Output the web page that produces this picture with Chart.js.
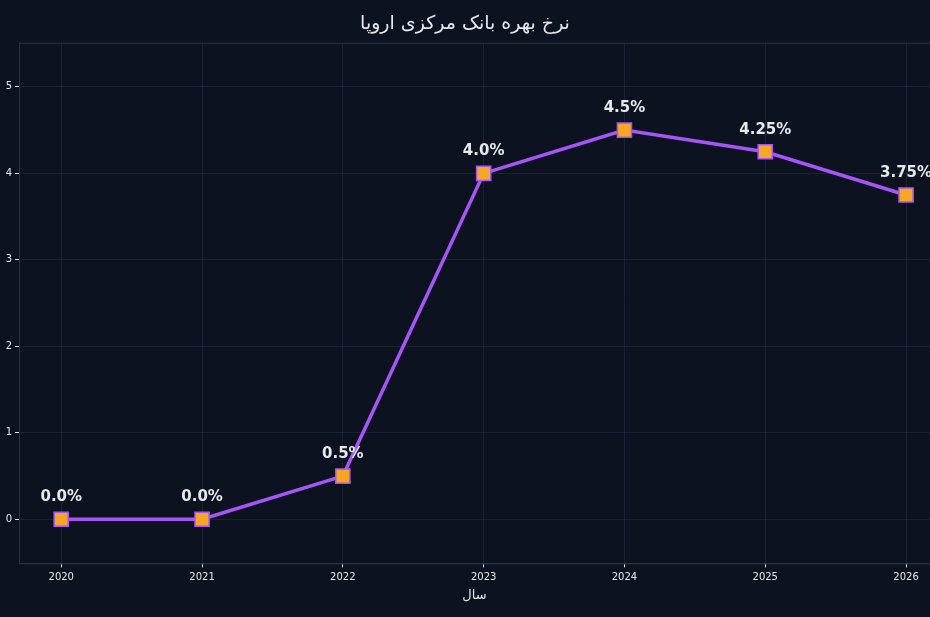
<!DOCTYPE html>
<html>
<head>
<meta charset="utf-8">
<script src="https://cdn.jsdelivr.net/npm/chart.js@4/dist/chart.umd.min.js"></script>
<style>
  html, body { margin: 0; padding: 0; background: #0c1220; }
  #wrap { width: 930px; height: 617px; position: relative; }
</style>
</head>
<body>
<div id="wrap"><canvas id="rate-chart"></canvas></div>
<script>
const years = [2020, 2021, 2022, 2023, 2024, 2025, 2026];
const rates = [0.0, 0.0, 0.5, 4.0, 4.5, 4.25, 3.75];
const rateLabels = ['0.0%', '0.0%', '0.5%', '4.0%', '4.5%', '4.25%', '3.75%'];
const yTicks = [0, 1, 2, 3, 4, 5];

const colors = {
  bg: '#0c1220',
  text: '#e6e8ee',
  grid: 'rgba(60, 70, 95, 0.3)',
  border: '#2a3142',
  line: '#a855f7',
  marker: '#f5a623'
};

const pointLabels = {
  id: 'pointLabels',
  afterDatasetsDraw(chart) {
    const { ctx } = chart;
    const meta = chart.getDatasetMeta(0);
    ctx.save();
    ctx.fillStyle = colors.text;
    ctx.font = 'bold 15px "DejaVu Sans", sans-serif';
    ctx.textAlign = 'center';
    ctx.textBaseline = 'middle';
    meta.data.forEach((pt, i) => {
      ctx.fillText(rateLabels[i], pt.x, pt.y - 22);
    });
    ctx.restore();
  }
};

const frame = {
  id: 'frame',
  beforeDraw(chart) {
    const { ctx } = chart;
    ctx.save();
    ctx.fillStyle = colors.bg;
    ctx.fillRect(0, 0, chart.width, chart.height);
    ctx.restore();
  },
  afterDraw(chart) {
    const { ctx, chartArea: a } = chart;
    ctx.save();
    ctx.strokeStyle = colors.border;
    ctx.lineWidth = 1;
    ctx.strokeRect(a.left + 0.5, a.top + 0.5, a.right - a.left, a.bottom - a.top);
    ctx.restore();
  }
};

new Chart(document.getElementById('rate-chart'), {
  type: 'line',
  data: {
    datasets: [{
      label: 'rate',
      data: years.map((y, i) => ({ x: y, y: rates[i] })),
      borderColor: colors.line,
      borderWidth: 3.5,
      tension: 0,
      clip: false,
      pointStyle: 'rect',
      pointRadius: 10,
      pointBackgroundColor: colors.marker,
      pointBorderColor: colors.line,
      pointBorderWidth: 1.5
    }]
  },
  options: {
    responsive: true,
    maintainAspectRatio: false,
    animation: false,
    layout: { autoPadding: false, padding: { top: 0, right: 0, left: 0, bottom: 10 } },
    plugins: {
      legend: { display: false },
      tooltip: { enabled: false },
      title: {
        display: true,
        text: 'نرخ بهره بانک مرکزی اروپا',
        color: colors.text,
        font: { size: 19, family: 'DejaVu Sans', weight: 'normal' },
        padding: { top: 13, bottom: 7 }
      }
    },
    scales: {
      x: {
        type: 'linear',
        min: 2019.7,
        max: 2026.17,
        afterBuildTicks: axis => { axis.ticks = years.map(v => ({ value: v })); },
        afterFit: axis => { axis.paddingRight = 0; axis.paddingLeft = 0; },
        ticks: {
          color: colors.text,
          font: { size: 10, family: 'DejaVu Sans' },
          padding: 4,
          maxRotation: 0,
          callback: v => String(v)
        },
        grid: {
          color: colors.grid,
          tickColor: colors.text,
          tickLength: 4,
          drawTicks: true
        },
        border: { color: colors.border },
        title: {
          display: true,
          text: 'سال',
          color: colors.text,
          font: { size: 13, family: 'DejaVu Sans' },
          padding: { top: 0 }
        }
      },
      y: {
        min: -0.51,
        max: 5.51,
        afterBuildTicks: axis => { axis.ticks = yTicks.map(v => ({ value: v })); },
        afterFit: axis => { axis.width = 19; },
        ticks: {
          color: colors.text,
          font: { size: 10, family: 'DejaVu Sans' },
          padding: 3
        },
        grid: {
          color: colors.grid,
          tickColor: colors.text,
          tickLength: 4
        },
        border: { color: colors.border }
      }
    }
  },
  plugins: [frame, pointLabels]
});
</script>
</body>
</html>
